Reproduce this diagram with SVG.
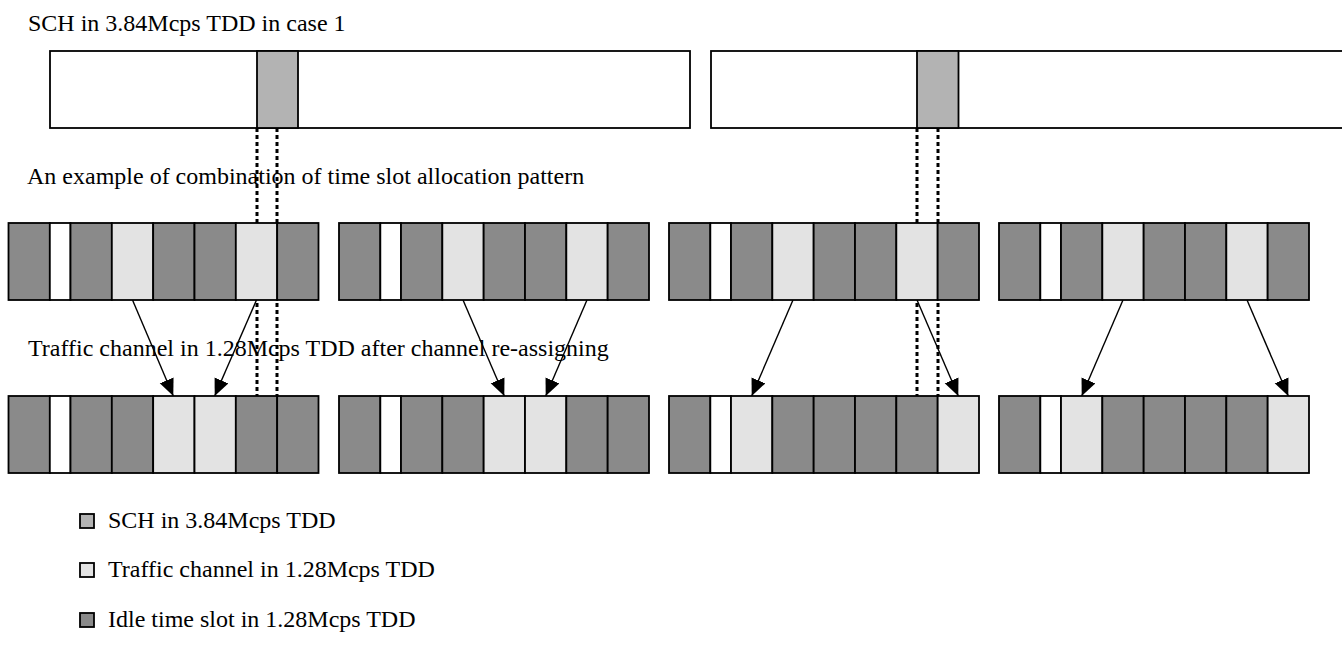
<svg xmlns="http://www.w3.org/2000/svg" width="1342" height="651" viewBox="0 0 1342 651">
<style>
text{font-family:"Liberation Serif","Times New Roman",serif;font-size:24px;fill:#000}
.d{fill:#8a8a8a;stroke:#000;stroke-width:1.8}
.w{fill:#fff;stroke:#000;stroke-width:1.8}
.l{fill:#e3e3e3;stroke:#000;stroke-width:1.8}
.s{fill:#b3b3b3;stroke:#000;stroke-width:1.8}
.bar{fill:#fff;stroke:#000;stroke-width:1.8}
.dot{stroke:#000;stroke-width:3;stroke-dasharray:4 3;fill:none}
.arr{stroke:#000;stroke-width:1.4;fill:none;marker-end:url(#ah)}
</style>
<defs>
<marker id="ah" markerUnits="userSpaceOnUse" markerWidth="18" markerHeight="16" refX="17" refY="7.5" orient="auto">
<path d="M0,0 L17,7.5 L0,15 z" fill="#000"/>
</marker>
<g id="rowA">
<rect class="d" x="0" y="0" width="41.33" height="77"/>
<rect class="w" x="41.33" y="0" width="20.67" height="77"/>
<rect class="d" x="62" y="0" width="41.33" height="77"/>
<rect class="l" x="103.33" y="0" width="41.33" height="77"/>
<rect class="d" x="144.67" y="0" width="41.33" height="77"/>
<rect class="d" x="186" y="0" width="41.33" height="77"/>
<rect class="l" x="227.33" y="0" width="41.33" height="77"/>
<rect class="d" x="268.67" y="0" width="41.33" height="77"/>
</g>
<g id="rowB">
<rect class="d" x="0" y="0" width="41.33" height="77"/>
<rect class="w" x="41.33" y="0" width="20.67" height="77"/>
<rect class="d" x="62" y="0" width="41.33" height="77"/>
<rect class="d" x="103.33" y="0" width="41.33" height="77"/>
<rect class="l" x="144.67" y="0" width="41.33" height="77"/>
<rect class="l" x="186" y="0" width="41.33" height="77"/>
<rect class="d" x="227.33" y="0" width="41.33" height="77"/>
<rect class="d" x="268.67" y="0" width="41.33" height="77"/>
</g>
<g id="rowC">
<rect class="d" x="0" y="0" width="41.33" height="77"/>
<rect class="w" x="41.33" y="0" width="20.67" height="77"/>
<rect class="l" x="62" y="0" width="41.33" height="77"/>
<rect class="d" x="103.33" y="0" width="41.33" height="77"/>
<rect class="d" x="144.67" y="0" width="41.33" height="77"/>
<rect class="d" x="186" y="0" width="41.33" height="77"/>
<rect class="d" x="227.33" y="0" width="41.33" height="77"/>
<rect class="l" x="268.67" y="0" width="41.33" height="77"/>
</g>
</defs>
<rect width="1342" height="651" fill="#fff"/>
<g id="labels">
<text x="28" y="31">SCH in 3.84Mcps TDD in case 1</text>
<text x="27" y="184">An example of combination of time slot allocation pattern</text>
<text x="28" y="356">Traffic channel in 1.28Mcps TDD after channel re-assigning</text>
</g>
<g id="connectors">
<line class="dot" x1="257" y1="128" x2="257" y2="396"/>
<line class="dot" x1="277" y1="128" x2="277" y2="396"/>
<line class="dot" x1="917" y1="128" x2="917" y2="396"/>
<line class="dot" x1="938" y1="128" x2="938" y2="396"/>
<line class="arr" x1="132.5" y1="300" x2="173.3" y2="396"/>
<line class="arr" x1="256.5" y1="300" x2="214.7" y2="396"/>
<line class="arr" x1="463" y1="300" x2="504.3" y2="396"/>
<line class="arr" x1="587" y1="300" x2="545.7" y2="396"/>
<line class="arr" x1="793" y1="300" x2="751.7" y2="396"/>
<line class="arr" x1="917" y1="300" x2="958.3" y2="396"/>
<line class="arr" x1="1123" y1="300" x2="1081.7" y2="396"/>
<line class="arr" x1="1247" y1="300" x2="1288.3" y2="396"/>
</g>
<g id="sch-frame-1">
<rect class="bar" x="50" y="51" width="640" height="77"/>
<rect class="s" x="257" y="51" width="41" height="77"/>
</g>
<g id="sch-frame-2">
<rect class="bar" x="711" y="51" width="650" height="77"/>
<rect class="s" x="917" y="51" width="41.5" height="77"/>
</g>
<g id="pattern-1"><use href="#rowA" x="8.5" y="223"/></g>
<g id="pattern-2"><use href="#rowA" x="339" y="223"/></g>
<g id="pattern-3"><use href="#rowA" x="669" y="223"/></g>
<g id="pattern-4"><use href="#rowA" x="999" y="223"/></g>
<g id="reassigned-1"><use href="#rowB" x="8.5" y="396"/></g>
<g id="reassigned-2"><use href="#rowB" x="339" y="396"/></g>
<g id="reassigned-3"><use href="#rowC" x="669" y="396"/></g>
<g id="reassigned-4"><use href="#rowC" x="999" y="396"/></g>
<g id="legend">
<rect class="s" x="80" y="514" width="14" height="14"/>
<text x="108" y="528">SCH in 3.84Mcps TDD</text>
<rect class="l" x="80" y="563" width="14" height="14"/>
<text x="108" y="577">Traffic channel in 1.28Mcps TDD</text>
<rect class="d" x="80" y="613" width="14" height="14"/>
<text x="108" y="627">Idle time slot in 1.28Mcps TDD</text>
</g>
</svg>
